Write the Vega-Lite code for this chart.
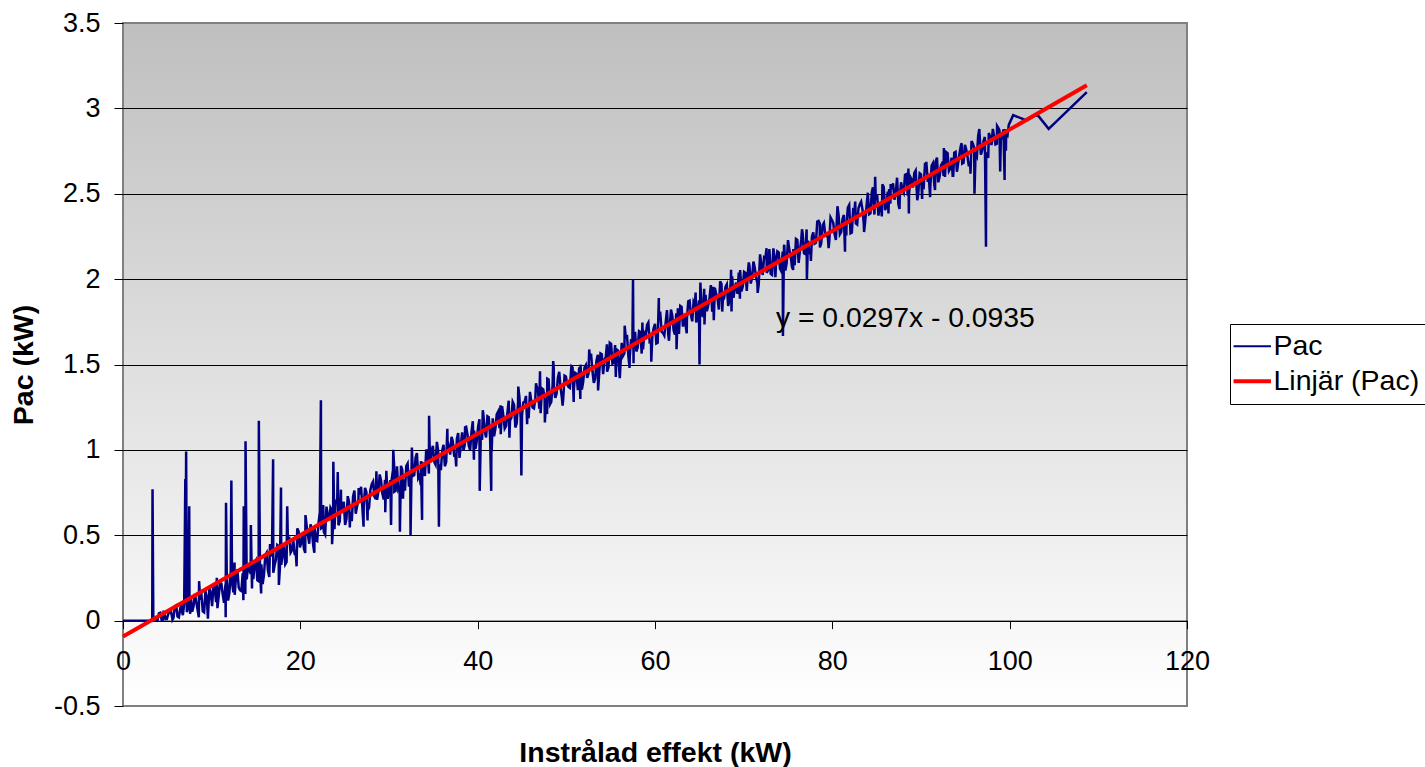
{
  "$schema": "https://vega.github.io/schema/vega-lite/v6.json",
  "width": 1064,
  "height": 683,
  "autosize": {"type": "none"},
  "padding": {"left": 123, "top": 23, "right": 238, "bottom": 61},
  "background": "white",
  "config": {
    "font": "Liberation Sans",
    "view": {
      "fill": {"gradient": "linear", "x1": 0, "y1": 0, "x2": 0, "y2": 1, "stops": [{"offset": 0, "color": "#bfbfbf"}, {"offset": 1, "color": "#ffffff"}]},
      "stroke": "#808080",
      "strokeWidth": 2
    }
  },
  "datasets": {
    "pac": [
      {"x":0,"y":0},{"x":3.3,"y":0},{"x":3.33,"y":0.77},{"x":3.42,"y":0.005},
      {"x":3.6,"y":0.013},{"x":3.9,"y":0.005},{"x":4.2,"y":0.046},{"x":4.5,"y":0.005},{"x":4.8,"y":0.01},{"x":5.1,"y":0.038},{"x":5.4,"y":0.057},{"x":5.7,"y":0.016},{"x":6.0,"y":0.09},{"x":6.3,"y":0.019},
      {"x":6.6,"y":0.068},{"x":6.9,"y":0.096},{"x":7.2,"y":0.05},{"x":7.5,"y":0.104},{"x":7.8,"y":0.053},{"x":8.1,"y":0.157},{"x":8.4,"y":0.066},{"x":8.7,"y":0.135},{"x":9.0,"y":0.054},{"x":9.3,"y":0.173},
      {"x":9.6,"y":0.042},{"x":9.9,"y":0.161},{"x":10.2,"y":0.209},{"x":10.5,"y":0.108},{"x":10.8,"y":0.147},{"x":11.1,"y":0.216},{"x":11.4,"y":0.105},{"x":11.7,"y":0.274},{"x":12.0,"y":0.163},{"x":12.3,"y":0.222},
      {"x":12.6,"y":0.151},{"x":12.9,"y":0.3},{"x":13.2,"y":0.178},{"x":13.5,"y":0.277},{"x":13.8,"y":0.156},{"x":14.1,"y":0.315},{"x":14.4,"y":0.274},{"x":14.7,"y":0.243},{"x":15.0,"y":0.352},{"x":15.3,"y":0.231},
      {"x":15.6,"y":0.33},{"x":15.9,"y":0.269},{"x":16.2,"y":0.397},{"x":16.5,"y":0.256},{"x":16.8,"y":0.385},{"x":17.1,"y":0.324},{"x":17.4,"y":0.443},{"x":17.7,"y":0.312},{"x":18.0,"y":0.391},{"x":18.3,"y":0.33},
      {"x":18.6,"y":0.479},{"x":18.9,"y":0.398},{"x":19.2,"y":0.476},{"x":19.5,"y":0.385},{"x":19.8,"y":0.524},{"x":20.1,"y":0.453},{"x":20.4,"y":0.422},{"x":20.7,"y":0.561},{"x":21.0,"y":0.45},{"x":21.3,"y":0.529},
      {"x":21.6,"y":0.548},{"x":21.9,"y":0.467},{"x":22.2,"y":0.636},{"x":22.5,"y":0.545},{"x":22.8,"y":0.504},{"x":23.1,"y":0.613},{"x":23.4,"y":0.661},{"x":23.7,"y":0.57},{"x":24.0,"y":0.709},{"x":24.3,"y":0.558},
      {"x":24.6,"y":0.647},{"x":24.9,"y":0.696},{"x":25.2,"y":0.595},{"x":25.5,"y":0.694},{"x":25.8,"y":0.583},{"x":26.1,"y":0.762},{"x":26.4,"y":0.67},{"x":26.7,"y":0.739},{"x":27.0,"y":0.658},{"x":27.3,"y":0.777},
      {"x":27.6,"y":0.646},{"x":27.9,"y":0.765},{"x":28.2,"y":0.814},{"x":28.5,"y":0.713},{"x":28.8,"y":0.752},{"x":29.1,"y":0.821},{"x":29.4,"y":0.709},{"x":29.7,"y":0.878},{"x":30.0,"y":0.767},{"x":30.3,"y":0.826},
      {"x":30.6,"y":0.755},{"x":30.9,"y":0.904},{"x":31.2,"y":0.783},{"x":31.5,"y":0.882},{"x":31.8,"y":0.761},{"x":32.1,"y":0.92},{"x":32.4,"y":0.878},{"x":32.7,"y":0.847},{"x":33.0,"y":0.956},{"x":33.3,"y":0.835},
      {"x":33.6,"y":0.934},{"x":33.9,"y":0.873},{"x":34.2,"y":1.002},{"x":34.5,"y":0.861},{"x":34.8,"y":0.99},{"x":35.1,"y":0.929},{"x":35.4,"y":1.047},{"x":35.7,"y":0.916},{"x":36.0,"y":0.995},{"x":36.3,"y":0.904},
      {"x":36.6,"y":1.053},{"x":36.9,"y":0.972},{"x":37.2,"y":1.051},{"x":37.5,"y":0.96},{"x":37.8,"y":1.099},{"x":38.1,"y":1.028},{"x":38.4,"y":0.996},{"x":38.7,"y":1.135},{"x":39.0,"y":1.024},{"x":39.3,"y":1.103},
      {"x":39.6,"y":1.113},{"x":39.9,"y":1.052},{"x":40.2,"y":1.18},{"x":40.5,"y":1.059},{"x":40.8,"y":1.108},{"x":41.1,"y":1.197},{"x":41.4,"y":1.076},{"x":41.7,"y":1.185},{"x":42.0,"y":1.124},{"x":42.3,"y":1.223},
      {"x":42.6,"y":1.092},{"x":42.9,"y":1.201},{"x":43.2,"y":1.139},{"x":43.5,"y":1.288},{"x":43.8,"y":1.187},{"x":44.1,"y":1.266},{"x":44.4,"y":1.155},{"x":44.7,"y":1.314},{"x":45.0,"y":1.203},{"x":45.3,"y":1.282},
      {"x":45.6,"y":1.201},{"x":45.9,"y":1.34},{"x":46.2,"y":1.248},{"x":46.5,"y":1.297},{"x":46.8,"y":1.356},{"x":47.1,"y":1.215},{"x":47.4,"y":1.354},{"x":47.7,"y":1.273},{"x":48.0,"y":1.412},{"x":48.3,"y":1.281},
      {"x":48.6,"y":1.37},{"x":48.9,"y":1.329},{"x":49.2,"y":1.457},{"x":49.5,"y":1.306},{"x":49.8,"y":1.435},{"x":50.1,"y":1.384},{"x":50.4,"y":1.363},{"x":50.7,"y":1.482},{"x":51.0,"y":1.451},{"x":51.3,"y":1.35},
      {"x":51.6,"y":1.499},{"x":51.9,"y":1.398},{"x":52.2,"y":1.496},{"x":52.5,"y":1.445},{"x":52.8,"y":1.554},{"x":53.1,"y":1.393},{"x":53.4,"y":1.522},{"x":53.7,"y":1.441},{"x":54.0,"y":1.56},{"x":54.3,"y":1.529},
      {"x":54.6,"y":1.458},{"x":54.9,"y":1.627},{"x":55.2,"y":1.505},{"x":55.5,"y":1.614},{"x":55.8,"y":1.583},{"x":56.1,"y":1.492},{"x":56.4,"y":1.551},{"x":56.7,"y":1.66},{"x":57.0,"y":1.549},{"x":57.3,"y":1.648},
      {"x":57.6,"y":1.657},{"x":57.9,"y":1.576},{"x":58.2,"y":1.695},{"x":58.5,"y":1.564},{"x":58.8,"y":1.683},{"x":59.1,"y":1.732},{"x":59.4,"y":1.631},{"x":59.7,"y":1.67},{"x":60.0,"y":1.738},{"x":60.3,"y":1.627},
      {"x":60.6,"y":1.796},{"x":60.9,"y":1.685},{"x":61.2,"y":1.744},{"x":61.5,"y":1.673},{"x":61.8,"y":1.822},{"x":62.1,"y":1.701},{"x":62.4,"y":1.8},{"x":62.7,"y":1.679},{"x":63.0,"y":1.837},{"x":63.3,"y":1.796},
      {"x":63.6,"y":1.765},{"x":63.9,"y":1.874},{"x":64.2,"y":1.753},{"x":64.5,"y":1.852},{"x":64.8,"y":1.791},{"x":65.1,"y":1.92},{"x":65.4,"y":1.779},{"x":65.7,"y":1.908},{"x":66.0,"y":1.846},{"x":66.3,"y":1.965},
      {"x":66.6,"y":1.834},{"x":66.9,"y":1.913},{"x":67.2,"y":1.822},{"x":67.5,"y":1.971},{"x":67.8,"y":1.89},{"x":68.1,"y":1.969},{"x":68.4,"y":1.878},{"x":68.7,"y":2.017},{"x":69.0,"y":1.945},{"x":69.3,"y":1.914},
      {"x":69.6,"y":2.053},{"x":69.9,"y":1.957},{"x":70.2,"y":2.036},{"x":70.5,"y":2.055},{"x":70.8,"y":1.974},{"x":71.1,"y":2.103},{"x":71.4,"y":2.012},{"x":71.7,"y":1.971},{"x":72.0,"y":2.079},{"x":72.3,"y":2.128},
      {"x":72.6,"y":2.037},{"x":72.9,"y":2.176},{"x":73.2,"y":2.025},{"x":73.5,"y":2.114},{"x":73.8,"y":2.163},{"x":74.1,"y":2.062},{"x":74.4,"y":2.161},{"x":74.7,"y":2.05},{"x":75.0,"y":2.228},{"x":75.3,"y":2.137},
      {"x":75.6,"y":2.177},{"x":75.9,"y":2.236},{"x":76.2,"y":2.095},{"x":76.5,"y":2.234},{"x":76.8,"y":2.152},{"x":77.1,"y":2.291},{"x":77.4,"y":2.16},{"x":77.7,"y":2.249},{"x":78.0,"y":2.208},{"x":78.3,"y":2.337},
      {"x":78.6,"y":2.186},{"x":78.9,"y":2.315},{"x":79.2,"y":2.264},{"x":79.5,"y":2.243},{"x":79.8,"y":2.361},{"x":80.1,"y":2.33},{"x":80.4,"y":2.229},{"x":80.7,"y":2.378},{"x":81.0,"y":2.277},{"x":81.3,"y":2.376},
      {"x":81.6,"y":2.325},{"x":81.9,"y":2.434},{"x":82.2,"y":2.273},{"x":82.5,"y":2.402},{"x":82.8,"y":2.32},{"x":83.1,"y":2.439},{"x":83.4,"y":2.408},{"x":83.7,"y":2.337},{"x":84.0,"y":2.506},{"x":84.3,"y":2.385},
      {"x":84.6,"y":2.494},{"x":84.9,"y":2.463},{"x":85.2,"y":2.372},{"x":85.5,"y":2.431},{"x":85.8,"y":2.539},{"x":86.1,"y":2.428},{"x":86.4,"y":2.527},{"x":86.7,"y":2.526},{"x":87.0,"y":2.465},{"x":87.3,"y":2.594},
      {"x":87.6,"y":2.473},{"x":87.9,"y":2.522},{"x":88.2,"y":2.611},{"x":88.5,"y":2.49},{"x":88.8,"y":2.598},{"x":89.1,"y":2.537},{"x":89.4,"y":2.636},{"x":89.7,"y":2.505},{"x":90.0,"y":2.614},{"x":90.3,"y":2.538},
      {"x":90.6,"y":2.687},{"x":90.9,"y":2.586},{"x":91.2,"y":2.665},{"x":91.5,"y":2.554},{"x":91.8,"y":2.712},{"x":92.1,"y":2.601},{"x":92.4,"y":2.68},{"x":92.7,"y":2.599},{"x":93.0,"y":2.738},{"x":93.3,"y":2.647},
      {"x":93.6,"y":2.626},{"x":93.9,"y":2.745},{"x":94.2,"y":2.684},{"x":94.5,"y":2.783},{"x":94.8,"y":2.682},{"x":95.1,"y":2.761},{"x":95.4,"y":2.66},{"x":95.7,"y":2.809},{"x":96.0,"y":2.768},{"x":96.3,"y":2.717},
      {"x":96.6,"y":2.855},{"x":96.9,"y":2.754},{"x":97.2,"y":2.833},{"x":97.5,"y":2.732},{"x":97.8,"y":2.831},{"x":98.1,"y":2.88},{"x":98.4,"y":2.789},{"x":98.7,"y":2.888},{"x":99.0,"y":2.817},{"x":99.3,"y":2.876},
      {"x":99.6,"y":2.844},{"x":99.9,"y":2.903},
      {"x":3.75,"y":0.005},{"x":4.05,"y":0.042},{"x":4.35,"y":0.006},{"x":4.65,"y":0.05},{"x":4.95,"y":0.01},{"x":5.25,"y":0.052},{"x":5.55,"y":0.016},{"x":5.85,"y":0.085},{"x":6.15,"y":0.024},{"x":6.45,"y":0.068},
      {"x":6.75,"y":0.032},{"x":7.05,"y":0.106},{"x":7.35,"y":0.08},{"x":7.65,"y":0.134},{"x":7.95,"y":0.083},{"x":8.25,"y":0.112},{"x":8.55,"y":0.02},{"x":8.85,"y":0.149},{"x":9.15,"y":0.048},{"x":9.45,"y":0.137},
      {"x":9.75,"y":0.196},{"x":10.05,"y":0.085},{"x":10.35,"y":0.184},{"x":10.65,"y":0.073},{"x":10.95,"y":0.222},{"x":11.25,"y":0.151},{"x":11.55,"y":0.209},{"x":11.85,"y":0.118},{"x":12.15,"y":0.287},{"x":12.45,"y":0.166},
      {"x":12.75,"y":0.265},{"x":13.05,"y":0.194},{"x":13.35,"y":0.173},{"x":13.65,"y":0.322},{"x":13.95,"y":0.241},{"x":14.25,"y":0.3},{"x":14.55,"y":0.188},{"x":14.85,"y":0.337},{"x":15.15,"y":0.236},{"x":15.45,"y":0.315},
      {"x":15.75,"y":0.214},{"x":16.05,"y":0.383},{"x":16.35,"y":0.292},{"x":16.65,"y":0.381},{"x":16.95,"y":0.28},{"x":17.25,"y":0.359},{"x":17.55,"y":0.437},{"x":17.85,"y":0.326},{"x":18.15,"y":0.435},{"x":18.45,"y":0.344},
      {"x":18.75,"y":0.483},{"x":19.05,"y":0.412},{"x":19.35,"y":0.391},{"x":19.65,"y":0.54},{"x":19.95,"y":0.429},{"x":20.25,"y":0.508},{"x":20.55,"y":0.396},{"x":20.85,"y":0.505},{"x":21.15,"y":0.564},{"x":21.45,"y":0.443},
      {"x":21.75,"y":0.473},{"x":22.05,"y":0.571},{"x":22.35,"y":0.54},{"x":22.65,"y":0.519},{"x":22.95,"y":0.668},{"x":23.25,"y":0.587},{"x":23.55,"y":0.646},{"x":23.85,"y":0.535},{"x":24.15,"y":0.684},{"x":24.45,"y":0.583},
      {"x":24.75,"y":0.662},{"x":25.05,"y":0.56},{"x":25.35,"y":0.729},{"x":25.65,"y":0.638},{"x":25.95,"y":0.727},{"x":26.25,"y":0.626},{"x":26.55,"y":0.705},{"x":26.85,"y":0.784},{"x":27.15,"y":0.673},{"x":27.45,"y":0.752},
      {"x":27.75,"y":0.661},{"x":28.05,"y":0.799},{"x":28.35,"y":0.728},{"x":28.65,"y":0.707},{"x":28.95,"y":0.856},{"x":29.25,"y":0.745},{"x":29.55,"y":0.824},{"x":29.85,"y":0.713},{"x":30.15,"y":0.822},{"x":30.45,"y":0.881},
      {"x":30.75,"y":0.76},{"x":31.05,"y":0.768},{"x":31.35,"y":0.907},{"x":31.65,"y":0.826},{"x":31.95,"y":0.905},{"x":32.25,"y":0.784},{"x":32.55,"y":0.913},{"x":32.85,"y":0.852},{"x":33.15,"y":0.981},{"x":33.45,"y":0.85},
      {"x":33.75,"y":0.929},{"x":34.05,"y":0.847},{"x":34.35,"y":0.986},{"x":34.65,"y":0.925},{"x":34.95,"y":1.024},{"x":35.25,"y":0.913},{"x":35.55,"y":0.992},{"x":35.85,"y":0.881},{"x":36.15,"y":1.03},{"x":36.45,"y":0.929},
      {"x":36.75,"y":1.018},{"x":37.05,"y":1.076},{"x":37.35,"y":0.965},{"x":37.65,"y":1.064},{"x":37.95,"y":0.953},{"x":38.25,"y":1.102},{"x":38.55,"y":1.031},{"x":38.85,"y":1.09},{"x":39.15,"y":0.999},{"x":39.45,"y":1.168},
      {"x":39.75,"y":1.007},{"x":40.05,"y":1.136},{"x":40.35,"y":1.075},{"x":40.65,"y":1.204},{"x":40.95,"y":1.073},{"x":41.25,"y":1.192},{"x":41.55,"y":1.121},{"x":41.85,"y":1.079},{"x":42.15,"y":1.208},{"x":42.45,"y":1.127},
      {"x":42.75,"y":1.256},{"x":43.05,"y":1.125},{"x":43.35,"y":1.214},{"x":43.65,"y":1.173},{"x":43.95,"y":1.282},{"x":44.25,"y":1.131},{"x":44.55,"y":1.27},{"x":44.85,"y":1.188},{"x":45.15,"y":1.277},{"x":45.45,"y":1.316},
      {"x":45.75,"y":1.185},{"x":46.05,"y":1.284},{"x":46.35,"y":1.243},{"x":46.65,"y":1.372},{"x":46.95,"y":1.241},{"x":47.25,"y":1.36},{"x":47.55,"y":1.299},{"x":47.85,"y":1.417},{"x":48.15,"y":1.266},{"x":48.45,"y":1.375},
      {"x":48.75,"y":1.304},{"x":49.05,"y":1.423},{"x":49.35,"y":1.362},{"x":49.65,"y":1.301},{"x":49.95,"y":1.43},{"x":50.25,"y":1.369},{"x":50.55,"y":1.478},{"x":50.85,"y":1.356},{"x":51.15,"y":1.445},{"x":51.45,"y":1.484},
      {"x":51.75,"y":1.353},{"x":52.05,"y":1.482},{"x":52.35,"y":1.421},{"x":52.65,"y":1.55},{"x":52.95,"y":1.459},{"x":53.25,"y":1.418},{"x":53.55,"y":1.557},{"x":53.85,"y":1.565},{"x":54.15,"y":1.444},{"x":54.45,"y":1.543},
      {"x":54.75,"y":1.482},{"x":55.05,"y":1.621},{"x":55.35,"y":1.51},{"x":55.65,"y":1.589},{"x":55.95,"y":1.478},{"x":56.25,"y":1.627},{"x":56.55,"y":1.566},{"x":56.85,"y":1.664},{"x":57.15,"y":1.543},{"x":57.45,"y":1.622},
      {"x":57.75,"y":1.692},{"x":58.05,"y":1.601},{"x":58.35,"y":1.69},{"x":58.65,"y":1.588},{"x":58.95,"y":1.667},{"x":59.25,"y":1.746},{"x":59.55,"y":1.635},{"x":59.85,"y":1.714},{"x":60.15,"y":1.623},{"x":60.45,"y":1.762},
      {"x":60.75,"y":1.691},{"x":61.05,"y":1.67},{"x":61.35,"y":1.819},{"x":61.65,"y":1.707},{"x":61.95,"y":1.786},{"x":62.25,"y":1.675},{"x":62.55,"y":1.784},{"x":62.85,"y":1.843},{"x":63.15,"y":1.722},{"x":63.45,"y":1.731},
      {"x":63.75,"y":1.87},{"x":64.05,"y":1.789},{"x":64.35,"y":1.868},{"x":64.65,"y":1.746},{"x":64.95,"y":1.875},{"x":65.25,"y":1.814},{"x":65.55,"y":1.943},{"x":65.85,"y":1.812},{"x":66.15,"y":1.891},{"x":66.45,"y":1.81},
      {"x":66.75,"y":1.949},{"x":67.05,"y":1.888},{"x":67.35,"y":1.987},{"x":67.65,"y":1.875},{"x":67.95,"y":1.954},{"x":68.25,"y":1.843},{"x":68.55,"y":1.992},{"x":68.85,"y":1.891},{"x":69.15,"y":1.98},{"x":69.45,"y":2.039},
      {"x":69.75,"y":1.928},{"x":70.05,"y":2.042},{"x":70.35,"y":1.931},{"x":70.65,"y":2.079},{"x":70.95,"y":2.008},{"x":71.25,"y":2.067},{"x":71.55,"y":1.976},{"x":71.85,"y":2.145},{"x":72.15,"y":2.024},{"x":72.45,"y":2.123},
      {"x":72.75,"y":2.052},{"x":73.05,"y":2.031},{"x":73.35,"y":2.18},{"x":73.65,"y":2.098},{"x":73.95,"y":2.157},{"x":74.25,"y":2.046},{"x":74.55,"y":2.195},{"x":74.85,"y":2.094},{"x":75.15,"y":2.173},{"x":75.45,"y":2.072},
      {"x":75.75,"y":2.081},{"x":76.05,"y":2.23},{"x":76.35,"y":2.169},{"x":76.65,"y":2.268},{"x":76.95,"y":2.147},{"x":77.25,"y":2.226},{"x":77.55,"y":2.145},{"x":77.85,"y":2.274},{"x":78.15,"y":2.213},{"x":78.45,"y":2.341},
      {"x":78.75,"y":2.21},{"x":79.05,"y":2.329},{"x":79.35,"y":2.258},{"x":79.65,"y":2.217},{"x":79.95,"y":2.346},{"x":80.25,"y":2.265},{"x":80.55,"y":2.394},{"x":80.85,"y":2.263},{"x":81.15,"y":2.352},{"x":81.45,"y":2.31},
      {"x":81.75,"y":2.419},{"x":82.05,"y":2.268},{"x":82.35,"y":2.407},{"x":82.65,"y":2.326},{"x":82.95,"y":2.415},{"x":83.25,"y":2.454},{"x":83.55,"y":2.323},{"x":83.85,"y":2.422},{"x":84.15,"y":2.38},{"x":84.45,"y":2.509},
      {"x":84.75,"y":2.378},{"x":85.05,"y":2.497},{"x":85.35,"y":2.436},{"x":85.65,"y":2.555},{"x":85.95,"y":2.404},{"x":86.25,"y":2.513},{"x":86.55,"y":2.442},{"x":86.85,"y":2.561},{"x":87.15,"y":2.5},{"x":87.45,"y":2.438},
      {"x":87.75,"y":2.567},{"x":88.05,"y":2.506},{"x":88.35,"y":2.615},{"x":88.65,"y":2.494},{"x":88.95,"y":2.583},{"x":89.25,"y":2.622},{"x":89.55,"y":2.491},{"x":89.85,"y":2.62},{"x":90.15,"y":2.544},{"x":90.45,"y":2.672},
      {"x":90.75,"y":2.581},{"x":91.05,"y":2.54},{"x":91.35,"y":2.679},{"x":91.65,"y":2.688},{"x":91.95,"y":2.567},{"x":92.25,"y":2.666},{"x":92.55,"y":2.605},{"x":92.85,"y":2.744},{"x":93.15,"y":2.633},{"x":93.45,"y":2.711},
      {"x":93.75,"y":2.74},{"x":94.05,"y":2.629},{"x":94.35,"y":2.738},{"x":94.65,"y":2.677},{"x":94.95,"y":2.786},{"x":95.25,"y":2.715},{"x":95.55,"y":2.684},{"x":95.85,"y":2.793},{"x":96.15,"y":2.732},{"x":96.45,"y":2.84},
      {"x":96.75,"y":2.729},{"x":97.05,"y":2.808},{"x":97.35,"y":2.737},{"x":97.65,"y":2.856},{"x":97.95,"y":2.785},{"x":98.25,"y":2.834},{"x":98.55,"y":2.793},{"x":98.85,"y":2.872},{"x":99.15,"y":2.831},{"x":99.45,"y":2.879},
      {"x":99.75,"y":2.838},
      {"x":4.58,"y":0.051},{"x":5.58,"y":0.005},{"x":6.58,"y":0.098},{"x":7.58,"y":0.04},{"x":8.58,"y":0.231},{"x":9.58,"y":0.011},{"x":10.58,"y":0.251},{"x":11.58,"y":0.02},{"x":12.58,"y":0.34},{"x":13.58,"y":0.12},
      {"x":14.58,"y":0.35},{"x":15.58,"y":0.159},{"x":16.58,"y":0.449},{"x":17.58,"y":0.209},{"x":18.58,"y":0.508},{"x":19.58,"y":0.318},{"x":20.58,"y":0.618},{"x":21.58,"y":0.397},{"x":22.58,"y":0.677},{"x":23.58,"y":0.447},
      {"x":24.58,"y":0.767},{"x":25.58,"y":0.546},{"x":26.58,"y":0.776},{"x":27.58,"y":0.586},{"x":28.58,"y":0.875},{"x":29.58,"y":0.635},{"x":30.58,"y":0.905},{"x":31.58,"y":0.714},{"x":32.58,"y":1.014},{"x":33.58,"y":0.794},
      {"x":34.58,"y":1.034},{"x":35.58,"y":0.803},{"x":36.58,"y":1.123},{"x":37.58,"y":0.903},{"x":38.58,"y":1.132},{"x":39.58,"y":0.942},{"x":40.58,"y":1.232},{"x":41.58,"y":0.991},{"x":42.58,"y":1.261},{"x":43.58,"y":1.071},
      {"x":44.58,"y":1.371},{"x":45.58,"y":1.15},{"x":46.58,"y":1.39},{"x":47.58,"y":1.16},{"x":48.58,"y":1.479},{"x":49.58,"y":1.259},{"x":50.58,"y":1.489},{"x":51.58,"y":1.298},{"x":52.58,"y":1.588},{"x":53.58,"y":1.348},
      {"x":54.58,"y":1.618},{"x":55.58,"y":1.427},{"x":56.58,"y":1.727},{"x":57.58,"y":1.507},{"x":58.58,"y":1.746},{"x":59.58,"y":1.516},{"x":60.58,"y":1.81},{"x":61.58,"y":1.639},{"x":62.58,"y":1.829},{"x":63.58,"y":1.683},
      {"x":64.58,"y":1.921},{"x":65.58,"y":1.734},{"x":66.58,"y":1.956},{"x":67.58,"y":1.81},{"x":68.58,"y":2.055},{"x":69.58,"y":1.885},{"x":70.58,"y":2.098},{"x":71.58,"y":1.919},{"x":72.58,"y":2.181},{"x":73.58,"y":2.011},
      {"x":74.58,"y":2.201},{"x":75.58,"y":2.054},{"x":76.58,"y":2.292},{"x":77.58,"y":2.106},{"x":78.58,"y":2.327},{"x":79.58,"y":2.181},{"x":80.58,"y":2.427},{"x":81.58,"y":2.256},{"x":82.58,"y":2.454},{"x":83.58,"y":2.276},
      {"x":84.58,"y":2.538},{"x":85.58,"y":2.367},{"x":86.58,"y":2.557},{"x":87.58,"y":2.411},{"x":88.58,"y":2.648},{"x":89.58,"y":2.462},{"x":90.58,"y":2.669},{"x":91.58,"y":2.522},{"x":92.58,"y":2.768},{"x":93.58,"y":2.598},
      {"x":94.58,"y":2.796},{"x":95.58,"y":2.617},{"x":96.58,"y":2.879},{"x":97.58,"y":2.709},{"x":98.58,"y":2.898},{"x":99.58,"y":2.752},
      {"x":100.4,"y":2.96},{"x":101.9,"y":2.93},{"x":103.1,"y":2.965},{"x":104.4,"y":2.88},{"x":108.7,"y":3.095},
      {"x":7.03,"y":0.83},{"x":7.12,"y":0.99},{"x":7.47,"y":0.67},
      {"x":11.62,"y":0.69},{"x":12.22,"y":0.82},{"x":13.62,"y":0.67},{"x":13.82,"y":1.05},{"x":14.42,"y":0.56},{"x":15.32,"y":1.17},{"x":16.93,"y":0.945},{"x":17.82,"y":0.78},{"x":18.52,"y":0.67},
      {"x":22.32,"y":1.29},{"x":23.72,"y":0.93},{"x":24.22,"y":0.87},
      {"x":27.13,"y":0.55},{"x":30.23,"y":0.56},{"x":30.48,"y":1.0},{"x":31.23,"y":0.52},{"x":32.43,"y":0.5},{"x":33.73,"y":0.59},{"x":34.52,"y":1.2},{"x":35.63,"y":0.55},{"x":40.23,"y":0.76},{"x":41.53,"y":0.76},{"x":44.93,"y":0.85},{"x":47.03,"y":1.46},{"x":48.52,"y":1.52},
      {"x":47.83,"y":1.21},{"x":50.83,"y":1.28},{"x":56.03,"y":1.42},{"x":57.13,"y":1.48},{"x":57.52,"y":1.995},{"x":60.43,"y":1.89},{"x":62.43,"y":1.59},{"x":65.02,"y":1.5},{"x":65.12,"y":1.98},{"x":66.63,"y":1.76},{"x":68.63,"y":1.81},
      {"x":74.43,"y":1.667},{"x":77.13,"y":1.995},{"x":81.43,"y":2.16},{"x":84.83,"y":2.6},{"x":86.33,"y":2.385},
      {"x":88.63,"y":2.385},{"x":90.13,"y":2.47},{"x":91.03,"y":2.48},{"x":93.63,"y":2.6},{"x":96.03,"y":2.5},{"x":97.33,"y":2.19},{"x":98.93,"y":2.63},{"x":99.43,"y":2.58}
    ],
    "trend": [{"x": 0, "y": -0.0935}, {"x": 108.7, "y": 3.135}]
  },
  "layer": [
    {
      "data": {"name": "pac"},
      "mark": {"type": "line", "strokeWidth": 2.5, "clip": true},
      "encoding": {
        "x": {
          "field": "x", "type": "quantitative",
          "scale": {"domain": [0, 120], "nice": false, "zero": false},
          "axis": {
            "values": [0, 20, 40, 60, 80, 100, 120],
            "offset": -85.375,
            "grid": false,
            "domainColor": "black", "domainWidth": 1,
            "tickColor": "black", "tickSize": 8, "tickWidth": 1,
            "labelFontSize": 27, "labelColor": "black", "labelPadding": 20, "labelFlush": false, "labelOverlap": false,
            "title": "Instrålad effekt (kW)", "titleFontSize": 28.5, "titleFontWeight": "bold", "titleColor": "black",
            "titleBaseline": "alphabetic", "titleY": 141
          }
        },
        "y": {
          "field": "y", "type": "quantitative",
          "scale": {"domain": [-0.5, 3.5], "nice": false, "zero": false},
          "axis": {
            "values": [-0.5, 0, 0.5, 1, 1.5, 2, 2.5, 3, 3.5],
            "grid": true,
            "gridColor": {"condition": {"test": "datum.value == -0.5 || datum.value == 3.5", "value": "#808080"}, "value": "black"},
            "gridWidth": 1,
            "domain": false,
            "tickColor": "black", "tickSize": 9, "tickWidth": 1,
            "labelFontSize": 27, "labelColor": "black", "labelPadding": 14,
            "labelExpr": "toString(datum.value)",
            "title": "Pac (kW)", "titleFontSize": 28.5, "titleFontWeight": "bold", "titleColor": "black",
            "titleBaseline": "alphabetic", "titleX": -91
          }
        },
        "color": {
          "datum": "Pac", "type": "nominal",
          "scale": {"domain": ["Pac", "Linjär (Pac)"], "range": ["#000080", "#ff0000"]},
          "legend": {
            "title": null, "orient": "none", "legendX": 1107, "legendY": 301,
            "symbolType": "stroke", "symbolSize": 1400, "symbolStrokeWidth": 2,
            "labelFontSize": 28.5, "labelColor": "black", "labelOffset": 7, "labelLimit": 400,
            "padding": 8, "rowPadding": 6, "strokeColor": "black", "fillColor": "white", "cornerRadius": 0,
            "encode": {"symbols": {"update": {"strokeWidth": {"signal": "datum.value === 'Pac' ? 2 : 4"}}}}
          }
        }
      }
    },
    {
      "data": {"name": "trend"},
      "mark": {"type": "line", "strokeWidth": 4},
      "encoding": {
        "x": {"field": "x", "type": "quantitative"},
        "y": {"field": "y", "type": "quantitative"},
        "color": {"datum": "Linjär (Pac)", "type": "nominal"}
      }
    },
    {
      "data": {"values": [{}]},
      "mark": {"type": "text", "align": "left", "baseline": "alphabetic", "fontSize": 28.3, "color": "black"},
      "encoding": {
        "x": {"datum": 73.64, "type": "quantitative"},
        "y": {"datum": 1.721, "type": "quantitative"},
        "text": {"value": "y = 0.0297x - 0.0935"}
      }
    }
  ]
}
